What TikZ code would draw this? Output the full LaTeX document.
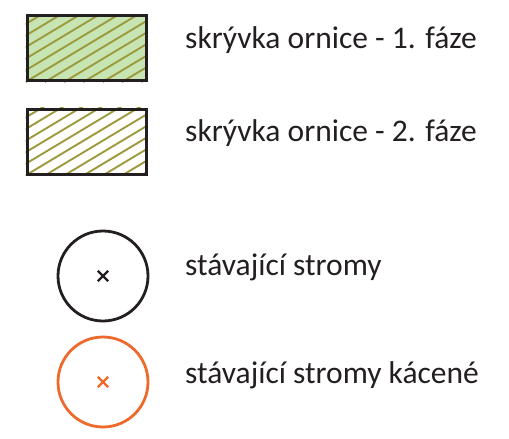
\documentclass[tikz,border=0pt]{standalone}
\usepackage{fontspec}
\setmainfont{Carlito}
\usetikzlibrary{shapes.misc}
\definecolor{txtgray}{HTML}{231F20}
\definecolor{fieldgreen}{HTML}{C6E5B3}
\definecolor{hatcholive}{HTML}{9C9A3C}
\definecolor{fellorange}{HTML}{EE6A2C}
\tikzset{
	legendbox/.style = {rectangle, draw=txtgray, line width=3pt, minimum width=119pt, minimum height=65pt, inner sep=0pt},
	hatchline/.style = {hatcholive, line width=1.9pt},
	treecircle/.style = {circle, line width=2.8pt, minimum size=90pt, inner sep=0pt},
	treecross/.style = {cross out, draw, line width=2.4pt, minimum size=8pt, inner sep=0pt},
	legendtext/.style = {anchor=base west, inner sep=0pt, text=txtgray, font=\fontsize{31.5}{36}\selectfont}
}
\begin{document}
\begin{tikzpicture}[x=1pt, y=-1pt]
		\useasboundingbox (0,0) rectangle (509,439);
		% rectangles with hatching
		\node [legendbox, fill=fieldgreen] (faze1) at (86.5,48) {};
		\node [legendbox, fill=white] (faze2) at (86.5,141.5) {};
		\foreach \fz in {faze1, faze2}{
			\begin{scope}
				\clip (\fz.south west) rectangle (\fz.north east);
				\foreach \i in {-8,...,8}
					\draw [hatchline] ([xshift=\i*19.3pt]\fz.south west) -- ++(200,-120);
			\end{scope}
			\node [legendbox] at (\fz) {};
		}
		% trees
		\node [treecircle, draw=txtgray] (strom) at (103,276) {};
		\node [treecross, txtgray] (stromx) at (strom) {};
		\node [treecircle, draw=fellorange] (kaceny) at (103,382) {};
		\node [treecross, fellorange] (kacenyx) at (kaceny) {};
		% labels
		\node [legendtext] (lab1) at (185,48.3) {skrývka ornice - 1. fáze};
		\node [legendtext] (lab2) at (185,141.5) {skrývka ornice - 2. fáze};
		\node [legendtext] (lab3) at (185,275) {stávající stromy};
		\node [legendtext] (lab4) at (185,383) {stávající stromy kácené};
\end{tikzpicture}
\end{document}
